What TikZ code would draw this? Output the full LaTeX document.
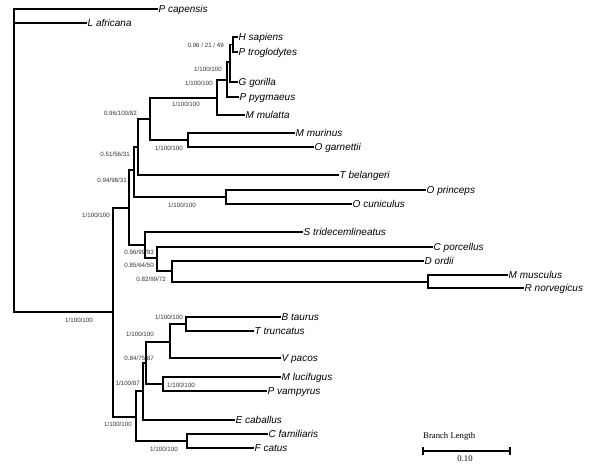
\documentclass[tikz,border=0pt]{standalone}
\usepackage{fontspec}
\setmainfont{Liberation Sans}
\newfontfamily\barfont{Liberation Serif}
\begin{document}
\begin{tikzpicture}[x=1pt,y=-1pt,
  br/.style={line width=1.8pt,line cap=rect},
  leaf/.style={anchor=west,inner xsep=1.5pt,inner ysep=0pt,text height=7.2pt,text depth=0pt,
    font=\fontsize{10}{12}\selectfont\itshape},
  sup/.style={anchor=east,inner sep=0pt,text=black!80,font=\fontsize{6.2}{7}\selectfont},
  supw/.style={anchor=west,inner sep=0pt,text=black!80,font=\fontsize{6.2}{7}\selectfont}]
\useasboundingbox (0,0) rectangle (600,465);
% internal nodes
\coordinate (R) at (14,160);
\coordinate (A) at (113,312);
\coordinate (B) at (129,208);
\coordinate (n1) at (134,170);
\coordinate (n2) at (138,147);
\coordinate (n4) at (150,119);
\coordinate (n5) at (217,98);
\coordinate (n7) at (227,80);
\coordinate (n8) at (230,62);
\coordinate (n9) at (233,44.5);
\coordinate (n6) at (188,140);
\coordinate (n3) at (226,197);
\coordinate (n10) at (145,245);
\coordinate (n11) at (157,258);
\coordinate (n12) at (172,271);
\coordinate (n13) at (428,282);
\coordinate (L) at (136,417);
\coordinate (n14) at (143,391);
\coordinate (n16) at (146,363);
\coordinate (n17) at (170,342);
\coordinate (n19) at (186,324);
\coordinate (n18) at (163,384);
\coordinate (n15) at (187,441);
% leaves
\node[leaf] (pca) at (157,9) {P capensis};
\node[leaf] (laf) at (86,23) {L africana};
\node[leaf] (hsa) at (237,37) {H sapiens};
\node[leaf] (ptr) at (237,52) {P troglodytes};
\node[leaf] (ggo) at (237,82) {G gorilla};
\node[leaf] (ppy) at (238,97) {P pygmaeus};
\node[leaf] (mmu) at (244,115) {M mulatta};
\node[leaf] (mmr) at (294,133) {M murinus};
\node[leaf] (oga) at (313,147) {O garnettii};
\node[leaf] (tbe) at (338,175) {T belangeri};
\node[leaf] (opr) at (425,190) {O princeps};
\node[leaf] (ocu) at (351,204) {O cuniculus};
\node[leaf] (str) at (302,232) {S tridecemlineatus};
\node[leaf] (cpo) at (432,247) {C porcellus};
\node[leaf] (dor) at (423,261) {D ordii};
\node[leaf] (mus) at (507,275) {M musculus};
\node[leaf] (rno) at (523,288) {R norvegicus};
\node[leaf] (bta) at (280,317) {B taurus};
\node[leaf] (ttr) at (253,331) {T truncatus};
\node[leaf] (vpa) at (280,358) {V pacos};
\node[leaf] (mlu) at (280,377) {M lucifugus};
\node[leaf] (pva) at (266,391) {P vampyrus};
\node[leaf] (eca) at (234,420) {E caballus};
\node[leaf] (cfa) at (267,434) {C familiaris};
\node[leaf] (fca) at (253,448) {F catus};
% support values
\node[sup] (s9) at (224,45) {0.96 / 21 / 49};
\node[sup] (s8) at (222,69) {1/100/100};
\node[sup] (s7) at (213,83) {1/100/100};
\node[sup] (s5) at (200,104) {1/100/100};
\node[sup] (s4) at (137,113) {0.96/100/82};
\node[sup] (s6) at (183,148) {1/100/100};
\node[sup] (s2) at (130,154) {0.51/56/31};
\node[sup] (s1) at (127,180) {0.94/98/31};
\node[sup] (sB) at (110,215) {1/100/100};
\node[sup] (s3) at (196,205) {1/100/100};
\node[sup] (sA) at (93,320) {1/100/100};
\node[sup] (s10) at (154,252) {0.96/99/93};
\node[sup] (s11) at (154,265) {0.85/64/50};
\node[sup] (s12) at (166,279) {0.82/99/72};
\node[sup] (s19) at (183,317) {1/100/100};
\node[sup] (s17) at (154,334) {1/100/100};
\node[sup] (s16) at (154,358) {0.84/75/87};
\node[sup] (s14) at (140,383) {1/100/87};
\node[supw] (s18) at (167,385) {1/100/100};
\node[sup] (sL) at (132,424) {1/100/100};
\node[sup] (s15) at (178,449) {1/100/100};
% branches
\draw[br] (R) |- (pca.west);
\draw[br] (R) |- (laf.west);
\draw[br] (R) |- (A);
\draw[br] (A) |- (B);
\draw[br] (A) |- (L);
\draw[br] (B) |- (n1);
\draw[br] (B) |- (n10);
\draw[br] (n1) |- (n2);
\draw[br] (n1) |- (n3);
\draw[br] (n2) |- (n4);
\draw[br] (n2) |- (tbe.west);
\draw[br] (n4) |- (n5);
\draw[br] (n4) |- (n6);
\draw[br] (n5) |- (n7);
\draw[br] (n5) |- (mmu.west);
\draw[br] (n7) |- (n8);
\draw[br] (n7) |- (ppy.west);
\draw[br] (n8) |- (n9);
\draw[br] (n8) |- (ggo.west);
\draw[br] (n9) |- (hsa.west);
\draw[br] (n9) |- (ptr.west);
\draw[br] (n6) |- (mmr.west);
\draw[br] (n6) |- (oga.west);
\draw[br] (n3) |- (opr.west);
\draw[br] (n3) |- (ocu.west);
\draw[br] (n10) |- (str.west);
\draw[br] (n10) |- (n11);
\draw[br] (n11) |- (cpo.west);
\draw[br] (n11) |- (n12);
\draw[br] (n12) |- (dor.west);
\draw[br] (n12) |- (n13);
\draw[br] (n13) |- (mus.west);
\draw[br] (n13) |- (rno.west);
\draw[br] (L) |- (n14);
\draw[br] (L) |- (n15);
\draw[br] (n14) |- (n16);
\draw[br] (n14) |- (eca.west);
\draw[br] (n16) |- (n17);
\draw[br] (n16) |- (n18);
\draw[br] (n17) |- (n19);
\draw[br] (n17) |- (vpa.west);
\draw[br] (n19) |- (bta.west);
\draw[br] (n19) |- (ttr.west);
\draw[br] (n18) |- (mlu.west);
\draw[br] (n18) |- (pva.west);
\draw[br] (n15) |- (cfa.west);
\draw[br] (n15) |- (fca.west);
% scale bar
\node[anchor=west,inner sep=0pt,font=\barfont\fontsize{8.7}{10}\selectfont] (bl) at (423,436) {Branch Length};
\coordinate (b1) at (423,451);
\coordinate (b2) at (510,451);
\draw[line width=1.1pt] (b1) -- (b2);
\draw[line width=1.1pt] ([yshift=-4pt]b1) -- ([yshift=4pt]b1);
\draw[line width=1.1pt] ([yshift=-4pt]b2) -- ([yshift=4pt]b2);
\node[inner sep=0pt,font=\barfont\fontsize{8.7}{10}\selectfont] (bv) at (465,458.5) {0.10};
\end{tikzpicture}
\end{document}
